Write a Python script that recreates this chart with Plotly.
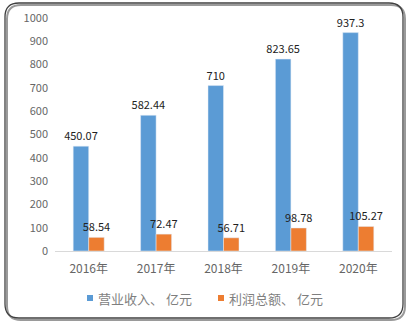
import plotly.graph_objects as go

years = ["2016年", "2017年", "2018年", "2019年", "2020年"]
revenue = [450.07, 582.44, 710, 823.65, 937.3]
profit = [58.54, 72.47, 56.71, 98.78, 105.27]
rev_labels = ["450.07", "582.44", "710", "823.65", "937.3"]
prof_labels = ["58.54", "72.47", "56.71", "98.78", "105.27"]
series_names = ["营业收入、 亿元", "利润总额、 亿元"]
series_colors = ["#5B9BD5", "#ED7D31"]
y_ticks = list(range(0, 1001, 100))

W, H = 407, 322
L, R, T, B = 55, 15, 18, 71
pw, ph = W - L - R, H - T - B

def px2paper(x, y):
    return (x - L) / pw, (H - B - y) / ph

def rounded(x0, y0, x1, y1, r):
    def P(x, y):
        a, b = px2paper(x, y)
        return f"{a:.5f},{b:.5f}"
    d = f"M {P(x0 + r, y0)} L {P(x1 - r, y0)} Q {P(x1, y0)} {P(x1, y0 + r)} "
    d += f"L {P(x1, y1 - r)} Q {P(x1, y1)} {P(x1 - r, y1)} "
    d += f"L {P(x0 + r, y1)} Q {P(x0, y1)} {P(x0, y1 - r)} "
    d += f"L {P(x0, y0 + r)} Q {P(x0, y0)} {P(x0 + r, y0)} Z"
    return d

font_fam = "Noto Sans CJK SC, Liberation Sans, sans-serif"

fig = go.Figure()
for vals, labels, name, col in [(revenue, rev_labels, series_names[0], series_colors[0]),
                                (profit, prof_labels, series_names[1], series_colors[1])]:
    fig.add_trace(go.Bar(
        x=years, y=vals, name=name, marker_color=col,
        text=labels, textposition="outside", cliponaxis=False, constraintext="none",
        textfont=dict(size=11, color="#222222", family=font_fam),
        showlegend=False,
    ))

shapes = [
    dict(type="path", xref="paper", yref="paper", path=rounded(7, 5, 405, 320, 14),
         line=dict(color="#9a9a9a", width=2), fillcolor="rgba(0,0,0,0)", layer="below"),
    dict(type="path", xref="paper", yref="paper", path=rounded(5, 3, 403, 318, 14),
         line=dict(color="#404040", width=1.3), fillcolor="rgba(0,0,0,0)", layer="below"),
]

annotations = []
legend_pos = [87, 218]
legend_y = 298
for xpx, name, col in zip(legend_pos, series_names, series_colors):
    a0, b0 = px2paper(xpx, legend_y - 3)
    a1, b1 = px2paper(xpx + 6, legend_y + 3)
    shapes.append(dict(type="rect", xref="paper", yref="paper", x0=a0, x1=a1, y0=b1, y1=b0,
                       fillcolor=col, line=dict(width=0)))
    tx, ty = px2paper(xpx + 9, legend_y)
    annotations.append(dict(xref="paper", yref="paper", x=tx, y=ty, xanchor="left",
                            yanchor="middle", text=name, showarrow=False,
                            font=dict(size=13, color="#7f7f7f", family=font_fam)))

fig.update_layout(
    width=W, height=H,
    margin=dict(l=L, r=R, t=T, b=B, autoexpand=False),
    paper_bgcolor="white", plot_bgcolor="white",
    barmode="group", bargap=0.54, bargroupgap=0,
    font=dict(family=font_fam, size=11, color="#666666"),
    showlegend=False,
    xaxis=dict(showline=True, linecolor="#d9d9d9", linewidth=1, ticks="",
               tickfont=dict(size=12, color="#666666"), automargin=False,
               ticklabelstandoff=7),
    yaxis=dict(range=[0, 1000], tickvals=y_ticks, showgrid=False, zeroline=False,
               showline=False, ticks="", tickfont=dict(size=11, color="#666666"),
               ticklabelstandoff=6, automargin=False),
    shapes=shapes,
    annotations=annotations,
)

fig.write_html("out.html")
